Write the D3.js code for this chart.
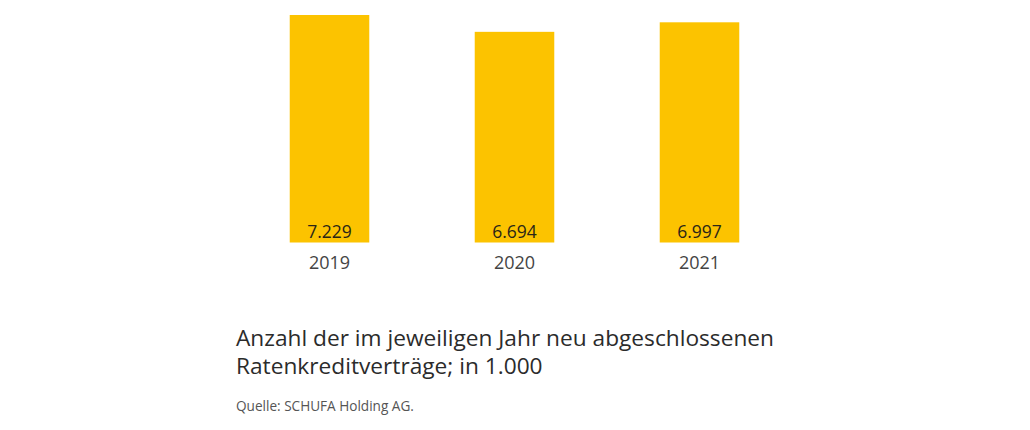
<!DOCTYPE html>
<html>
<head>
<meta charset="utf-8">
<script src="https://cdn.jsdelivr.net/npm/d3@7"></script>
<style>
  body { margin: 0; background: #fff; }
  svg { display: block; font-family: "Open Sans", "Noto Sans", sans-serif; }
</style>
</head>
<body>
<div id="chart"></div>
<script>
// Ratenkreditverträge je Jahr (in 1.000)
const years = ["2019", "2020", "2021"];
const values = [7229, 6694, 6997];
const valueLabels = ["7.229", "6.694", "6.997"];

const titleLines = [
  "Anzahl der im jeweiligen Jahr neu abgeschlossenen",
  "Ratenkreditverträge; in 1.000"
];
const sourceText = "Quelle: SCHUFA Holding AG.";

const width = 1030, height = 430;
const baseY = 242.5, topY = 15;

const svg = d3.select("#chart").append("svg")
    .attr("width", width)
    .attr("height", height);

const x = d3.scaleBand()
    .domain(years)
    .range([237, 792])
    .paddingInner(0.57)
    .paddingOuter(0.285);

const y = d3.scaleLinear()
    .domain([0, d3.max(values)])
    .range([baseY, topY]);

const data = years.map((yr, i) => ({ year: yr, value: values[i], label: valueLabels[i] }));

// Balken
svg.selectAll(".bar")
    .data(data)
    .enter()
    .append("rect")
    .attr("class", "bar")
    .attr("x", d => x(d.year))
    .attr("y", d => y(d.value))
    .attr("width", x.bandwidth())
    .attr("height", d => y(0) - y(d.value))
    .attr("fill", "#fcc300");

// Werte im Balken
svg.selectAll(".val")
    .data(data)
    .enter()
    .append("text")
    .attr("class", "val")
    .attr("x", d => x(d.year) + x.bandwidth() / 2)
    .attr("y", y(0) - 5)
    .attr("text-anchor", "middle")
    .attr("font-size", 17.5)
    .attr("fill", "#2a2618")
    .text(d => d.label);

// Jahre
const xAxis = d3.axisBottom(x).tickSize(0).tickPadding(14);
const axisG = svg.append("g")
    .attr("transform", `translate(0,${y(0)})`)
    .call(xAxis);
axisG.select(".domain").remove();
axisG.selectAll("text")
    .attr("font-family", "'Open Sans', 'Noto Sans', sans-serif")
    .attr("font-size", 18)
    .attr("fill", "#444");

// Beschreibung (zwei Zeilen)
svg.selectAll(".title")
    .data(titleLines)
    .enter()
    .append("text")
    .attr("class", "title")
    .attr("x", 236)
    .attr("y", (d, i) => 346 + i * 28)
    .attr("font-size", 22.7)
    .attr("fill", "#2b2b2b")
    .text(d => d);

svg.append("text")
    .attr("x", 236)
    .attr("y", 411)
    .attr("font-size", 13.6)
    .attr("fill", "#555")
    .text(sourceText);
</script>
</body>
</html>
